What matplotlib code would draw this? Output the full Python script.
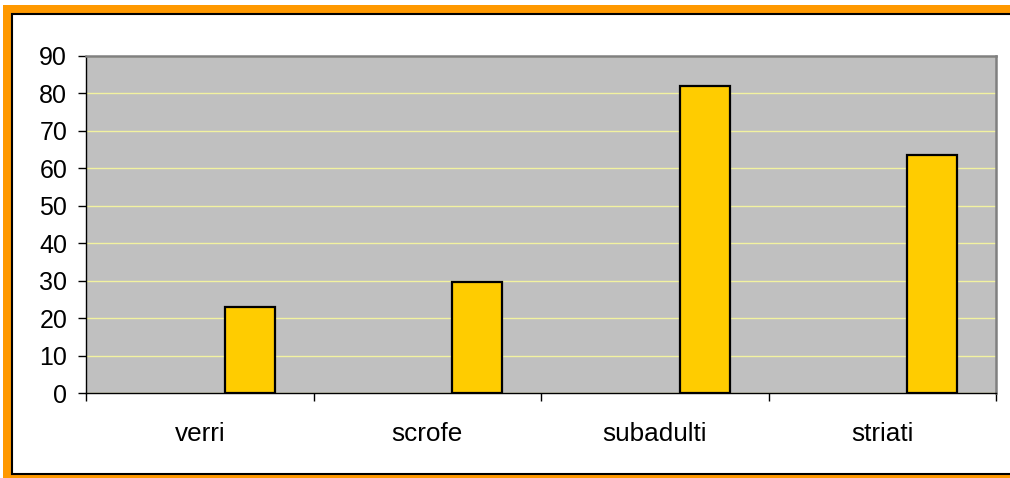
import numpy as np
import matplotlib.pyplot as plt
from matplotlib.patches import Rectangle

plt.rcParams['font.family'] = ['Liberation Sans', 'DejaVu Sans']

# Dati del grafico
categorie = ['verri', 'scrofe', 'subadulti', 'striati']
valori = [23.1, 29.8, 81.8, 63.6]
tick_y = [0, 10, 20, 30, 40, 50, 60, 70, 80, 90]

W, H = 1010, 478
fig = plt.figure(figsize=(W / 100, H / 100), dpi=100)

# cornice arancione + bordo nero (sotto gli assi)
fig.patches.append(Rectangle((3 / W, -0.1), 1.2, (H - 5) / H + 0.1,
                             transform=fig.transFigure, facecolor='#FF9900',
                             edgecolor='none', zorder=-2))
fig.patches.append(Rectangle((12 / W, (H - 474) / H), 1.2, (474 - 14) / H,
                             transform=fig.transFigure, facecolor='white',
                             edgecolor='black', linewidth=1.5, zorder=-1))

ax = fig.add_axes([86 / W, (H - 393.3) / H, 910 / W, 337.6 / H])
ax.set_facecolor('#C0C0C0')

x = np.arange(len(categorie))
larghezza = 0.22
ax.bar(x + larghezza, valori, width=larghezza, color='#FFCC00',
       edgecolor='black', linewidth=1.6, zorder=3)

ax.set_xlim(-0.5, len(categorie) - 0.5)
ax.set_ylim(0, 90)
ax.set_yticks(tick_y)
ax.grid(axis='y', color='#F2F2A0', linewidth=1, zorder=1)
ax.set_axisbelow(True)

# tacche sui confini delle categorie, etichette al centro
ax.set_xticks(np.arange(-0.5, len(categorie), 1.0))
ax.set_xticklabels([])
ax.set_xticks(x, minor=True)
ax.set_xticklabels(categorie, minor=True)
ax.tick_params(axis='x', which='major', direction='out', length=6, width=1, color='black')
ax.tick_params(axis='x', which='minor', length=0, pad=21, labelsize=18.8)
ax.tick_params(axis='y', direction='out', length=6, width=1, color='black',
               pad=7.5, labelsize=18)

for lato in ['top', 'right']:
    ax.spines[lato].set_color('#808080')
    ax.spines[lato].set_linewidth(1.8)
for lato in ['left', 'bottom']:
    ax.spines[lato].set_color('black')
    ax.spines[lato].set_linewidth(1)

fig.savefig('out.png', dpi=100)
